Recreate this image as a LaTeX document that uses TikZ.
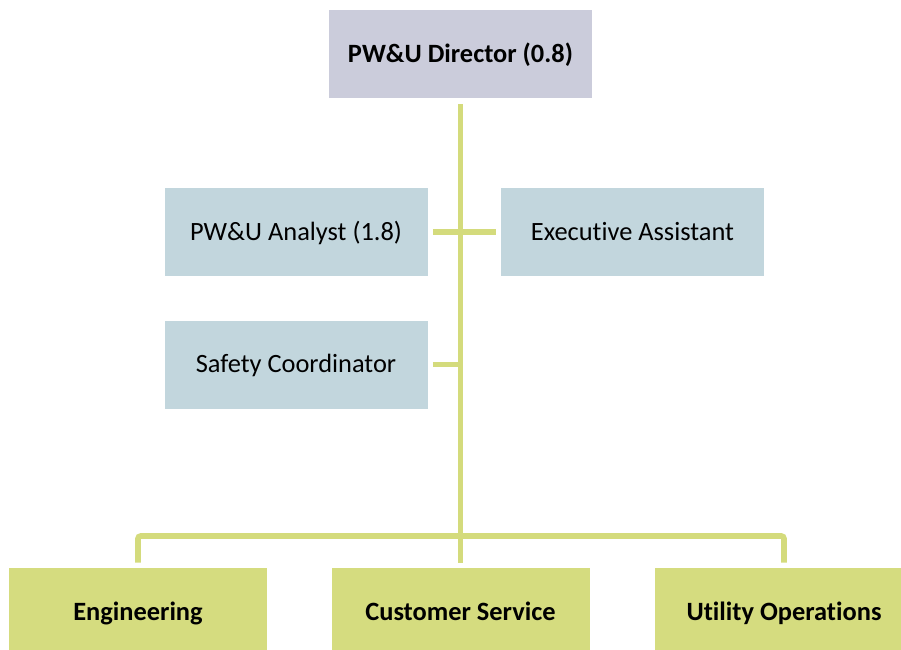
\documentclass[tikz,border=0pt]{standalone}
\usepackage{fontspec}
\setmainfont[Ligatures=NoCommon]{Carlito}
\definecolor{dirfill}{HTML}{CBCCDB}
\definecolor{stafffill}{HTML}{C2D6DD}
\definecolor{divfill}{HTML}{D5DC7F}
\definecolor{linkgreen}{HTML}{D4DB7C}
\tikzset{
	box/.style={minimum width=197.25pt, minimum height=66pt, inner sep=2pt, text height=1.2em, text depth=0em, font=\fontsize{19.8}{24}\selectfont},
	divbox/.style={box, minimum width=193.5pt, fill=divfill, font=\fontsize{19.8}{24}\selectfont\bfseries},
	link/.style={draw=linkgreen, line width=4.2pt}
}
\begin{document}
\begin{tikzpicture}[x=0.75pt, y=-0.75pt]
			\useasboundingbox (0,0) rectangle (901,650);
			\clip (0,0) rectangle (901,650);
			% director and staff
			\node[box, fill=dirfill, font=\fontsize{19.8}{24}\selectfont\bfseries] (dir) at (460.5,54) {PW\&U Director (0.8)};
			\node[box, fill=stafffill] (analyst) at (296,232) {PW\&U Analyst (1.8)};
			\node[box, fill=stafffill] (assist) at (632.5,232) {Executive Assistant};
			\node[box, fill=stafffill] (safety) at (296,364.5) {Safety Coordinator};
			% divisions
			\node[divbox] (eng) at (138,612) {Engineering};
			\node[divbox] (cs) at (460.5,612) {Customer Service};
			\node[divbox] (util) at (784,612) {Utility Operations};
			\coordinate (bus) at (460.5,536);
			% connectors
			\draw[link, shorten <=4.5pt, shorten >=3.75pt] (dir.south) -- (cs.north);
			\draw[link, shorten <=3.75pt, shorten >=3.75pt] (analyst.east) -- (assist.west);
			\draw[link, shorten <=3.75pt] (safety.east) -- (safety.east -| dir.south);
			\draw[link, rounded corners=2pt, shorten <=3.75pt, shorten >=3.75pt] (eng.north) |- (bus) -| (util.north);
		\end{tikzpicture}
\end{document}
